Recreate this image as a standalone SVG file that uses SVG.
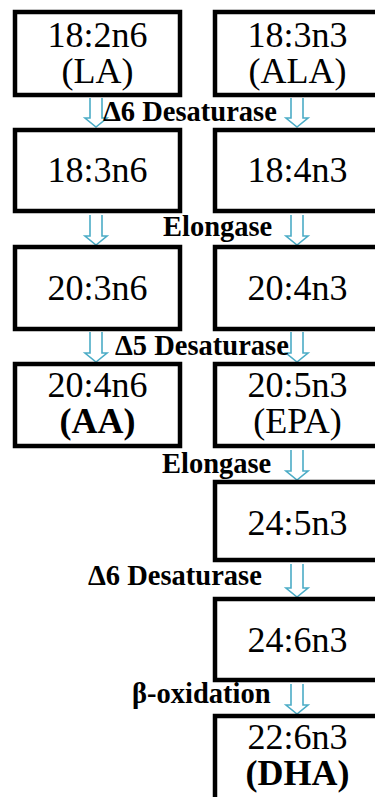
<svg xmlns="http://www.w3.org/2000/svg" width="375" height="797" viewBox="0 0 375 797" font-family="Liberation Serif, Times New Roman, serif">
<style>
.box{fill:#fff;stroke:#000;stroke-width:4.5;}
.t{font-size:36px;fill:#000;text-anchor:middle;}
.b{font-weight:bold;}
.lbl{font-size:28.5px;font-weight:bold;fill:#000;}
.arr{fill:#fff;stroke:#4BACC6;stroke-width:1.6;stroke-linejoin:miter;}
</style>
<rect width="375" height="797" fill="#fff"/>
<g id="connectors">
<path class="arr" d="M90,98 V118 H85 L96,127 L107,118 H102 V98"/>
<path class="arr" d="M291,98 V118 H286 L297,127 L308,118 H303 V98"/>
<path class="arr" d="M90,215 V236 H85 L96,245 L107,236 H102 V215"/>
<path class="arr" d="M291,215 V236 H286 L297,245 L308,236 H303 V215"/>
<path class="arr" d="M90,332 V353 H85 L96,362 L107,353 H102 V332"/>
<path class="arr" d="M291,332 V353 H286 L297,362 L308,353 H303 V332"/>
<path class="arr" d="M291,450 V471 H286 L297,480 L308,471 H303 V450"/>
<path class="arr" d="M291,564 V588 H286 L297,597 L308,588 H303 V564"/>
<path class="arr" d="M291,684 V705 H286 L297,714 L308,705 H303 V684"/>
</g>
<g id="labels">
<text class="lbl" x="103" y="121">Δ6 Desaturase</text>
<text class="lbl" x="163" y="236">Elongase</text>
<text class="lbl" x="115" y="355">Δ5 Desaturase</text>
<text class="lbl" x="162" y="473">Elongase</text>
<text class="lbl" x="88" y="585">Δ6 Desaturase</text>
<text class="lbl" x="132" y="703">β-oxidation</text>
</g>
<g id="n-18-2n6"><rect class="box" x="15" y="12" width="165" height="83"/><text class="t" x="97.5" y="47">18:2n6</text><text class="t" x="97.5" y="83">(LA)</text></g>
<g id="n-18-3n3"><rect class="box" x="215" y="12" width="165" height="83"/><text class="t" x="297.5" y="47">18:3n3</text><text class="t" x="297.5" y="83">(ALA)</text></g>
<g id="n-18-3n6"><rect class="box" x="15" y="130" width="165" height="81"/><text class="t" x="97.5" y="182">18:3n6</text></g>
<g id="n-18-4n3"><rect class="box" x="215" y="130" width="165" height="81"/><text class="t" x="297.5" y="182">18:4n3</text></g>
<g id="n-20-3n6"><rect class="box" x="15" y="247" width="165" height="82"/><text class="t" x="97.5" y="300">20:3n6</text></g>
<g id="n-20-4n3"><rect class="box" x="215" y="247" width="165" height="82"/><text class="t" x="297.5" y="300">20:4n3</text></g>
<g id="n-20-4n6"><rect class="box" x="15" y="364" width="165" height="82"/><text class="t" x="97.5" y="397">20:4n6</text><text class="t b" x="97.5" y="433">(AA)</text></g>
<g id="n-20-5n3"><rect class="box" x="215" y="364" width="165" height="82"/><text class="t" x="297.5" y="397">20:5n3</text><text class="t" x="297.5" y="433">(EPA)</text></g>
<g id="n-24-5n3"><rect class="box" x="215" y="482" width="165" height="78"/><text class="t" x="297.5" y="535">24:5n3</text></g>
<g id="n-24-6n3"><rect class="box" x="215" y="599" width="165" height="81"/><text class="t" x="297.5" y="652">24:6n3</text></g>
<g id="n-22-6n3"><rect class="box" x="215" y="716" width="165" height="100"/><text class="t" x="297.5" y="749">22:6n3</text><text class="t b" x="297.5" y="785">(DHA)</text></g>
</svg>
